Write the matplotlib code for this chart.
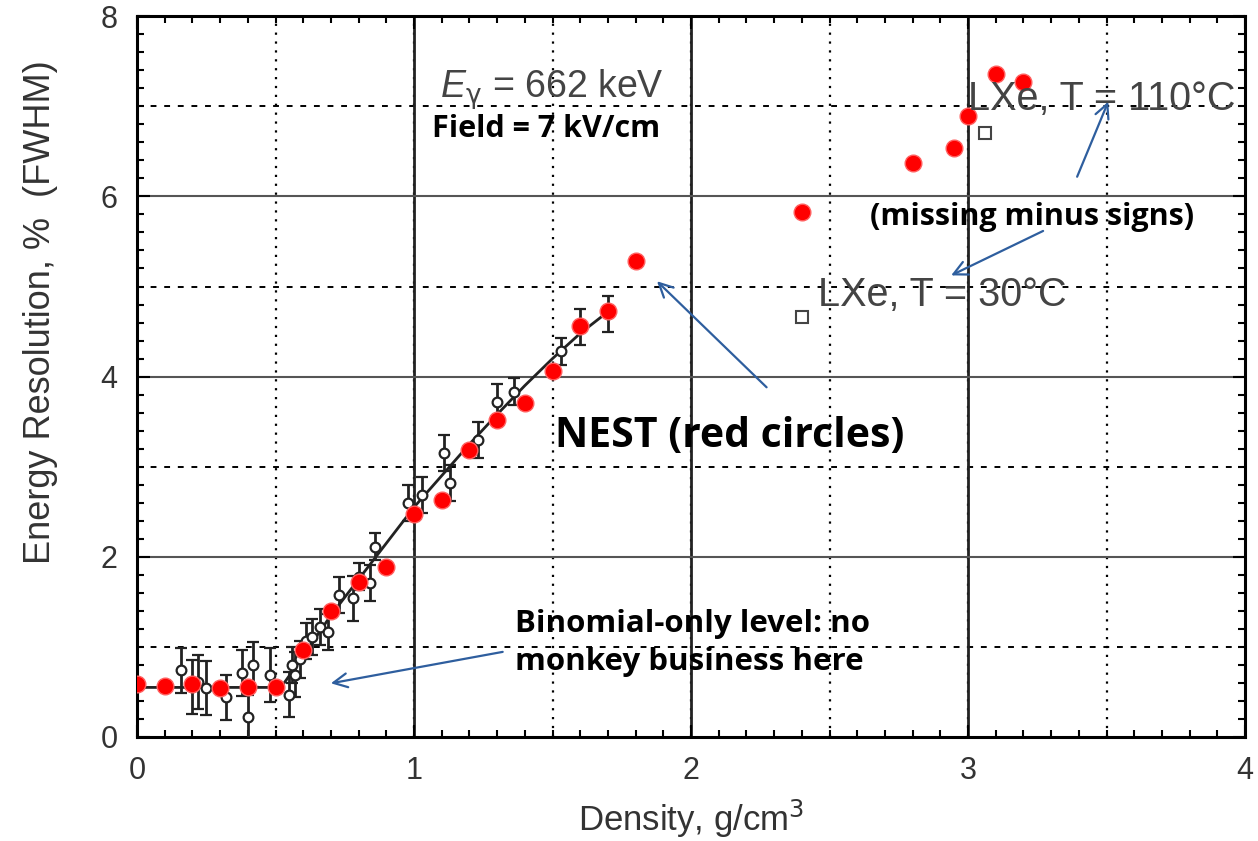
import numpy as np
import matplotlib.pyplot as plt
from matplotlib.ticker import MultipleLocator

plt.rcParams['font.family'] = ['Liberation Sans', 'DejaVu Sans']
plt.rcParams['mathtext.fontset'] = 'custom'
plt.rcParams['mathtext.rm'] = 'DejaVu Sans'
plt.rcParams['mathtext.it'] = 'Liberation Sans:italic'

# NEST (red circles)
nest_x = [0.0, 0.1, 0.2, 0.3, 0.4, 0.5, 0.6, 0.7, 0.8, 0.9, 1.0, 1.1, 1.2, 1.3,
          1.4, 1.5, 1.6, 1.7, 1.8, 2.4, 2.8, 2.95, 3.0, 3.1, 3.2]
nest_y = [0.59, 0.57, 0.59, 0.54, 0.56, 0.56, 0.97, 1.40, 1.72, 1.89, 2.48, 2.63,
          3.18, 3.52, 3.71, 4.06, 4.56, 4.73, 5.28, 5.83, 6.37, 6.54, 6.89, 7.36, 7.27]

# measured data (open circles with error bars)
data_x = [0.16, 0.20, 0.22, 0.25, 0.32, 0.38, 0.40, 0.42, 0.48, 0.55, 0.56, 0.57,
          0.59, 0.61, 0.63, 0.66, 0.69, 0.73, 0.78, 0.80, 0.84, 0.86, 0.98, 1.03,
          1.11, 1.13, 1.23, 1.30, 1.36, 1.53, 1.60, 1.70]
data_y = [0.74, 0.55, 0.61, 0.54, 0.44, 0.71, 0.22, 0.80, 0.69, 0.47, 0.80, 0.69,
          0.86, 1.06, 1.11, 1.22, 1.17, 1.58, 1.54, 1.78, 1.71, 2.11, 2.60, 2.69,
          3.15, 2.82, 3.30, 3.72, 3.83, 4.28, 4.55, 4.70]
data_err = [0.25, 0.30, 0.30, 0.30, 0.25, 0.25, 0.25, 0.25, 0.30, 0.25, 0.20, 0.25,
            0.20, 0.20, 0.20, 0.20, 0.20, 0.20, 0.25, 0.15, 0.20, 0.15, 0.20, 0.20,
            0.20, 0.20, 0.20, 0.20, 0.15, 0.15, 0.20, 0.20]

# fitted curve
fit_x = [0.0, 0.52, 0.60, 0.70, 0.80, 0.90, 1.00, 1.10, 1.20, 1.30, 1.40, 1.50, 1.60, 1.70]
fit_y = [0.55, 0.55, 0.90, 1.35, 1.75, 2.15, 2.55, 2.90, 3.25, 3.58, 3.90, 4.20, 4.48, 4.72]

# LXe points (open squares)
lxe_x = [2.40, 3.06]
lxe_y = [4.66, 6.70]

gray = '#333333'
blue = '#2E5E9E'

fig = plt.figure(figsize=(12.58, 8.41), dpi=100)
ax = fig.add_axes([0.1089, 0.1237, 0.8808, 0.857])

ax.set_xlim(0, 4)
ax.set_ylim(0, 8)

# dotted grid plus heavier solid lines
ax.xaxis.set_major_locator(MultipleLocator(1))
ax.yaxis.set_major_locator(MultipleLocator(2))
ax.xaxis.set_minor_locator(MultipleLocator(0.1))
ax.yaxis.set_minor_locator(MultipleLocator(0.2))
for gx in np.arange(0.5, 4, 0.5):
    ax.axvline(gx, color='black', lw=1.6, ls=(0, (1, 3)), zorder=1)
for gy in np.arange(1, 8, 1):
    ax.axhline(gy, color='black', lw=1.4, ls=(0, (3, 4)), zorder=1)
for gx in [1, 2, 3]:
    ax.axvline(gx, color='#222222', lw=2.0, zorder=1)
for gy in [2, 4, 6]:
    ax.axhline(gy, color='#555555', lw=1.5, zorder=1)

ax.tick_params(which='both', direction='in', top=True, right=True, colors='black',
               labelcolor=gray, labelsize=22, width=1.5)
ax.tick_params(which='major', length=9)
ax.tick_params(which='minor', length=5)
ax.tick_params(axis='x', pad=14)
ax.tick_params(axis='y', pad=14)
for s in ax.spines.values():
    s.set_linewidth(2.2)

ax.plot(fit_x, fit_y, color='#222222', lw=2, zorder=2)
ax.errorbar(data_x, data_y, yerr=data_err, fmt='o', ms=7, mfc='white', mec='#222222',
            mew=1.6, ecolor='#222222', elinewidth=2, capsize=4, capthick=2, zorder=3)
ax.plot(lxe_x, lxe_y, 's', ms=9, mfc='white', mec='#444444', mew=1.5, zorder=3)
ax.plot(nest_x, nest_y, 'o', ms=12, color='#FF0000', mec='#FF6060', mew=1, zorder=4)

ax.set_xlabel('Density, g/cm$^3$', fontsize=25, color=gray, labelpad=8)
ax.set_ylabel('Energy Resolution, %  (FWHM)', fontsize=26, color=gray)
ax.yaxis.set_label_coords(-0.071, 0.59)

ax.text(1.094, 7.19, r'$E_\mathrm{\gamma}$ = 662 keV', fontsize=27, color='#444444',
        va='center', zorder=5)
ax.text(1.065, 6.75, 'Field = 7 kV/cm', fontsize=22, fontweight='bold', va='center',
        family='Open Sans', zorder=5)
ax.text(3.0, 7.08, 'LXe, T = 110°C', fontsize=28.5, color='#444444', va='center',
        zorder=5)
ax.text(2.46, 4.91, 'LXe, T = 30°C', fontsize=28.5, color='#444444', va='center',
        zorder=5)
ax.text(2.646, 5.77, '(missing minus signs)', fontsize=22, fontweight='bold',
        va='center', family='Open Sans', zorder=5)
ax.text(1.509, 3.33, 'NEST (red circles)', fontsize=29.5, fontweight='bold',
        va='center', family='Open Sans', zorder=5)
ax.text(1.365, 1.04, 'Binomial-only level: no\nmonkey business here', fontsize=22.5,
        fontweight='bold', va='center', family='Open Sans', linespacing=1.35, zorder=5)

arrows = [((1.33, 0.95), (0.69, 0.59)),
          ((2.28, 3.86), (1.87, 5.08)),
          ((3.39, 6.19), (3.51, 7.08)),
          ((3.28, 5.63), (2.93, 5.11))]
for tail, head in arrows:
    ax.annotate('', xy=head, xytext=tail,
                arrowprops=dict(arrowstyle='->', color=blue, lw=1.6, mutation_scale=25),
                zorder=5)

fig.savefig('out.png', dpi=100)
